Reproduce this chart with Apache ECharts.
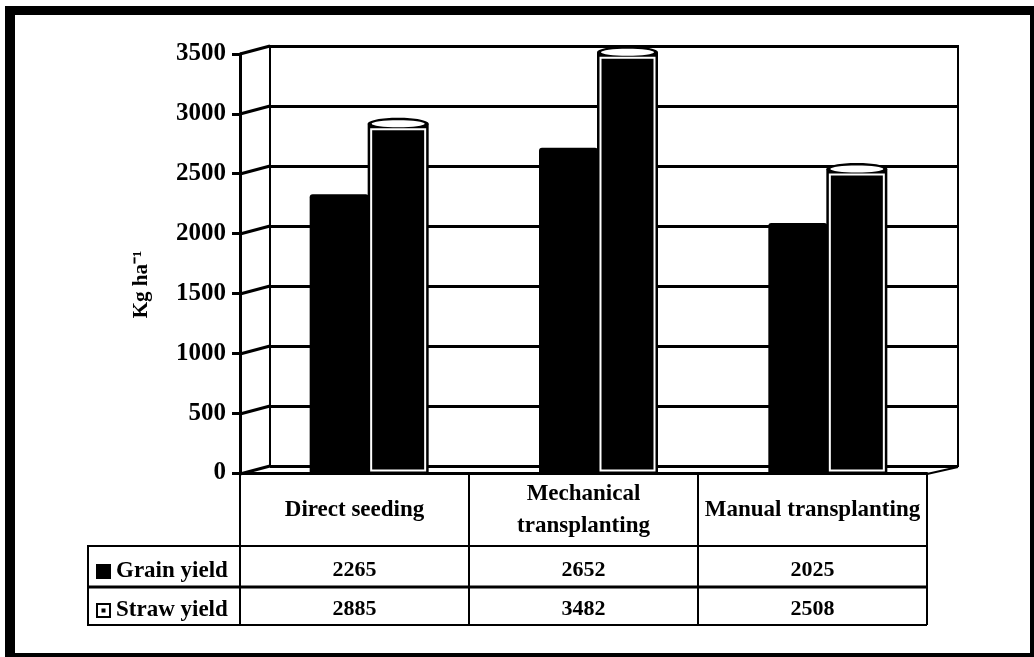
<!DOCTYPE html>
<html>
<head>
<meta charset="utf-8">
<style>
    html, body { margin: 0; padding: 0; background: #fff; }
    #chart { width: 1034px; height: 657px; }
</style>
<script src="https://cdn.jsdelivr.net/npm/echarts@6/dist/echarts.min.js"></script>
</head>
<body>
<div id="chart"></div>
<script>
// data
var categories = ['Direct seeding', 'Mechanical\ntransplanting', 'Manual transplanting'];
var grainYield = [2265, 2652, 2025];
var strawYield = [2885, 3482, 2508];
var yTicks = [0, 500, 1000, 1500, 2000, 2500, 3000, 3500];

var FONT = '"Liberation Serif", serif';
var DEPTH_X = 30, DEPTH_Y = 8;
var BAR_W = 59;

// 3d wall: the slanted lines going from the front axis to the back wall
function renderWall(params, api) {
    var cs = params.coordSys;
    var y = api.coord([0, api.value(0)])[1];
    var lines = [{
        type: 'line',
        shape: { x1: cs.x - DEPTH_X, y1: y + DEPTH_Y, x2: cs.x, y2: y },
        style: { stroke: '#000', lineWidth: 3 }
    }];
    if (api.value(0) === 0) {
        lines.push({
            type: 'line',
            shape: { x1: cs.x + cs.width - DEPTH_X - 1, y1: y + DEPTH_Y, x2: cs.x + cs.width, y2: y + 1 },
            style: { stroke: '#000', lineWidth: 2 }
        });
    }
    return { type: 'group', children: lines };
}

function renderGrain(params, api) {
    var p = api.coord([api.value(0), api.value(1)]);
    var base = api.coord([api.value(0), 0])[1] + DEPTH_Y - 1;
    var cx = p[0] - DEPTH_X / 2 - 1;
    return {
        type: 'rect',
        shape: { x: cx - BAR_W, y: p[1], width: BAR_W, height: base - p[1], r: [3, 3, 0, 0] },
        style: { fill: '#000' }
    };
}

function renderStraw(params, api) {
    var p = api.coord([api.value(0), api.value(1)]);
    var base = api.coord([api.value(0), 0])[1] + DEPTH_Y - 1;
    var left = p[0] - DEPTH_X / 2 - 2;
    var w = BAR_W + 2;
    var cy = p[1] + 4;
    return {
        type: 'group',
        children: [
            { type: 'rect', shape: { x: left, y: cy, width: w, height: base - cy }, style: { fill: '#000' } },
            { type: 'ellipse', shape: { cx: left + w / 2, cy: cy, rx: w / 2, ry: 6 }, style: { fill: '#000' } },
            { type: 'ellipse', shape: { cx: left + w / 2, cy: cy, rx: w / 2 - 4, ry: 3.5 }, style: { fill: '#fff' } },
            {
                type: 'rect',
                shape: { x: left + 3.5, y: cy + 5.5, width: w - 7, height: base - cy - 8 },
                style: { fill: '#000', stroke: '#fff', lineWidth: 2 }
            }
        ]
    };
}

var tickData = yTicks.map(function (t) { return [t]; });
var grainData = grainYield.map(function (v, i) { return [i, v]; });
var strawData = strawYield.map(function (v, i) { return [i, v]; });

var valueLabelStyle = {
    interval: 0,
    fontFamily: FONT,
    fontWeight: 'bold',
    fontSize: 22,
    color: '#000'
};

var chart = echarts.init(document.getElementById('chart'));
var option = {
    animation: false,
    backgroundColor: '#fff',
    textStyle: { fontFamily: FONT },
    grid: [
        // front plane: value labels and the table
        { left: 240, top: 54, width: 687, height: 419 },
        // back wall
        { left: 270, top: 46, width: 688, height: 420, show: true, borderColor: '#000', borderWidth: 2 }
    ],
    xAxis: [
        {
            type: 'category', gridIndex: 0, data: categories, position: 'bottom',
            axisLine: { show: true, lineStyle: { color: '#000', width: 3 } },
            axisTick: { show: true, length: 152, lineStyle: { color: '#000', width: 2 } },
            axisLabel: Object.assign({}, valueLabelStyle, { margin: 37, lineHeight: 32, fontSize: 23, align: 'center', verticalAlign: 'middle' })
        },
        {
            type: 'category', gridIndex: 0, data: grainYield.map(String), position: 'bottom', offset: 78,
            axisLine: { show: false }, axisTick: { show: false },
            axisLabel: valueLabelStyle
        },
        {
            type: 'category', gridIndex: 0, data: strawYield.map(String), position: 'bottom', offset: 117,
            axisLine: { show: false }, axisTick: { show: false },
            axisLabel: valueLabelStyle
        },
        { type: 'category', gridIndex: 1, data: categories, show: false }
    ],
    yAxis: [
        {
            type: 'value', gridIndex: 0, min: 0, max: 3500, interval: 500,
            name: 'Kg ha⁻¹', nameLocation: 'middle', nameGap: 88, nameRotate: 90,
            nameTextStyle: { fontFamily: FONT, fontWeight: 'bold', fontSize: 21, color: '#000', padding: [0, 42, 0, 0] },
            axisLine: { show: true, lineStyle: { color: '#000', width: 3 } },
            axisTick: { show: true, length: 8, lineStyle: { color: '#000', width: 3 } },
            axisLabel: {
                fontFamily: FONT, fontWeight: 'bold', fontSize: 25, color: '#000', margin: 14,
                padding: [5, 0, 0, 0],
                formatter: function (v) { return String(v); }
            },
            splitLine: { show: false }
        },
        {
            type: 'value', gridIndex: 1, min: 0, max: 3500, interval: 500,
            axisLine: { show: false }, axisTick: { show: false }, axisLabel: { show: false },
            splitLine: { show: true, lineStyle: { color: '#000', width: 3 } }
        }
    ],
    legend: {
        orient: 'vertical',
        left: 91,
        top: 555,
        itemWidth: 15,
        itemHeight: 15,
        itemGap: 16,
        textStyle: { fontFamily: FONT, fontWeight: 'bold', fontSize: 23, color: '#000' },
        selectedMode: false,
        data: [
            { name: 'Grain yield', icon: 'rect' },
            { name: 'Straw yield', icon: 'path://M0 0L15 0L15 15L0 15ZM2 2L2 13L13 13L13 2ZM5.5 5.5L9.5 5.5L9.5 9.5L5.5 9.5Z' }
        ]
    },
    graphic: [
        // page frame
        { type: 'rect', z: -20, silent: true, shape: { x: 5, y: 6, width: 1029, height: 651 }, style: { fill: '#000' } },
        { type: 'rect', z: -19, silent: true, shape: { x: 15, y: 15, width: 1015, height: 638 }, style: { fill: '#fff' } },
        // table rules
        { type: 'line', silent: true, shape: { x1: 87, y1: 546, x2: 927, y2: 546 }, style: { stroke: '#000', lineWidth: 2 } },
        { type: 'line', silent: true, shape: { x1: 87, y1: 587, x2: 927, y2: 587 }, style: { stroke: '#000', lineWidth: 3 } },
        { type: 'line', silent: true, shape: { x1: 87, y1: 625, x2: 927, y2: 625 }, style: { stroke: '#000', lineWidth: 2 } },
        { type: 'line', silent: true, shape: { x1: 88, y1: 546, x2: 88, y2: 625 }, style: { stroke: '#000', lineWidth: 2 } }
    ],
    series: [
        {
            name: 'wall', type: 'custom', xAxisIndex: 3, yAxisIndex: 1, silent: true,
            renderItem: renderWall, data: tickData, encode: { y: 0 }, z: 1
        },
        {
            name: 'Grain yield', type: 'custom', xAxisIndex: 3, yAxisIndex: 1,
            renderItem: renderGrain, data: grainData, encode: { x: 0, y: 1 }, itemStyle: { color: '#000' }, z: 3, clip: false
        },
        {
            name: 'Straw yield', type: 'custom', xAxisIndex: 3, yAxisIndex: 1,
            renderItem: renderStraw, data: strawData, encode: { x: 0, y: 1 }, itemStyle: { color: '#000' }, z: 4, clip: false
        }
    ]
};
chart.setOption(option);
</script>
</body>
</html>
